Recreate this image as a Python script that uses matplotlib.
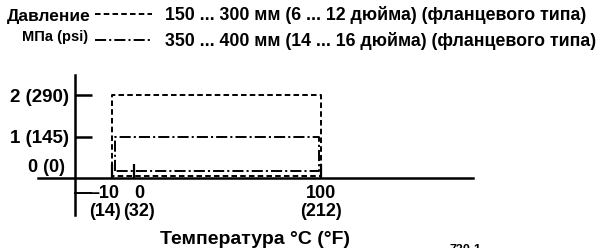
import numpy as np
import matplotlib
matplotlib.use("Agg")
import matplotlib.pyplot as plt
import matplotlib.transforms as mtransforms
from matplotlib.lines import Line2D

# temperature ticks, °C and °F
temp_c = [-10, 0, 100]
temp_f = [14, 32, 212]
# pressure ticks, MPa and psi
pressure_mpa = [1, 2]
pressure_psi = [145, 290]

# the two flange series: temperature range and max pressure
series_labels = [
    "150 ... 300 мм (6 ... 12 дюйма) (фланцевого типа)",
    "350 ... 400 мм (14 ... 16 дюйма) (фланцевого типа)",
]
series_tmin = [-10, -10]
series_tmax = [100, 100]
series_pmax = [2, 1]

plt.rcParams["font.family"] = ["Liberation Sans", "DejaVu Sans"]
plt.rcParams["font.weight"] = "bold"
plt.rcParams["axes.labelweight"] = "bold"
plt.rcParams["lines.scale_dashes"] = False

W, H = 606, 248
fig = plt.figure(figsize=(W / 100, H / 100), dpi=100)

# axes spans pixels x 38..473, y 75..215
ax = fig.add_axes([38 / W, (H - 215) / H, (473 - 38) / W, 140 / H])

# schematic, non-linear temperature axis
PX = np.array([112.0, 134.0, 321.0])
TK = np.array(temp_c, float)
s_lo = (PX[1] - PX[0]) / (TK[1] - TK[0])
s_hi = (PX[2] - PX[1]) / (TK[2] - TK[1])


def fwd(t):
    t = np.asarray(t, float)
    mid = np.interp(t, TK, PX)
    return np.where(t < TK[0], PX[0] + (t - TK[0]) * s_lo,
                    np.where(t > TK[-1], PX[-1] + (t - TK[-1]) * s_hi, mid))


def inv(p):
    p = np.asarray(p, float)
    mid = np.interp(p, PX, TK)
    return np.where(p < PX[0], TK[0] + (p - PX[0]) / s_lo,
                    np.where(p > PX[-1], TK[-1] + (p - PX[-1]) / s_hi, mid))


ax.set_xscale("function", functions=(fwd, inv))
ax.set_xlim(float(inv(38)), float(inv(473)))
ax.set_ylim(-37 / 41.5, 2 + 20 / 41.5)

styles = [(0, (4.0, 2.3)), (0, (8.0, 2.2, 1.5, 2.2))]
floor = [0.05, 0.17]
dx = [(0, 0), (1.2, 1.1)]
lw = 1.4
for i in range(2):
    x0 = series_tmin[i] + dx[i][0]
    x1 = series_tmax[i] - dx[i][1]
    ax.plot([x0, x0, x1, x1, x0],
            [floor[i], series_pmax[i], series_pmax[i], floor[i], floor[i]],
            color="black", lw=lw, linestyle=styles[i])

for s in ["top", "right"]:
    ax.spines[s].set_visible(False)
ax.spines["left"].set_position(("data", float(inv(75))))
ax.spines["bottom"].set_position(("data", 0))
ax.spines["left"].set_linewidth(1.8)
ax.spines["bottom"].set_linewidth(1.8)

ax.set_yticks(pressure_mpa)
ax.set_yticklabels([f"{m} ({p})" for m, p in zip(pressure_mpa, pressure_psi)])
ax.tick_params(axis="y", direction="in", length=12.5, width=1.8, pad=4,
               labelsize=13.5)
ax.annotate("0 (0)", xy=(float(inv(75)), 0), xytext=(-10, 11),
            textcoords="offset pixels", ha="right", va="center", fontsize=13)

ax.set_xticks(temp_c)
ax.set_xticklabels([f"{c}\n({f})".replace("-", "\u2013") for c, f in zip(temp_c, temp_f)])
ax.tick_params(axis="x", direction="in", length=10, width=1.6, pad=5,
               labelsize=13)
shifts = [-7, 5, 0]
for lab, sh in zip(ax.get_xticklabels(), shifts):
    lab.set_linespacing(1.05)
    lab.set_transform(lab.get_transform()
                      + mtransforms.ScaledTranslation(sh / 100, 0, fig.dpi_scale_trans))
ax.set_xlabel("Температура °C (°F)", fontsize=14, labelpad=8)

# short dash joining the y axis to the -10 label
ax.plot([float(inv(75)), float(inv(91))], [-0.37, -0.37], color="black", lw=1.4,
        clip_on=False)

handles = [Line2D([], [], color="black", lw=lw, linestyle=st) for st in styles]
fig.legend(handles, series_labels, loc="upper left",
           bbox_to_anchor=(95 / W, 1 - 6 / H), frameon=False, borderpad=0,
           borderaxespad=0, handlelength=3.2, handletextpad=0.75,
           labelspacing=0.45, fontsize=12.8)
fig.text(7 / W, 1 - 16 / H, "Давление", ha="left", va="center", fontsize=12.5)
fig.text(22 / W, 1 - 37 / H, "МПа (psi)", ha="left", va="center", fontsize=10.5)

fig.text(450 / W, 1 - 244 / H, "730-1", ha="left", va="top", fontsize=9)

fig.savefig("out.png", dpi=100)
